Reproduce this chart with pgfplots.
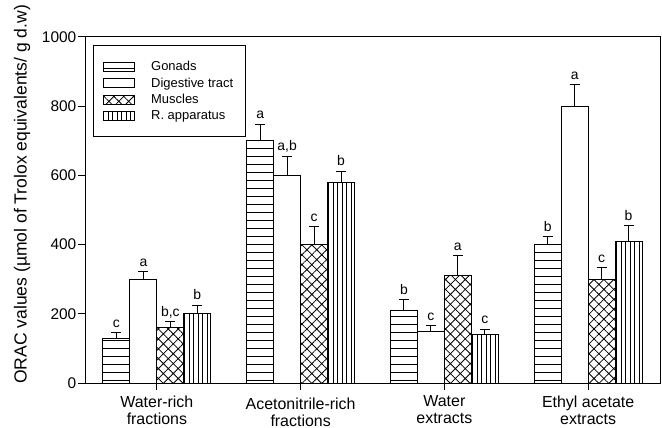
\documentclass[border=0pt]{standalone}
\usepackage{fontspec}
\setmainfont{Liberation Sans}
\usepackage{pgfplots}
\usepackage{pgfplotstable}
\pgfplotsset{compat=1.18}
\usetikzlibrary{patterns.meta}

\pgfplotstableread{
x y e
0 130 15
1 700 48
2 210 30
3 400 22
}\gonads
\pgfplotstableread{
x y e
0 300 22
1 600 55
2 150 16
3 800 62
}\digestive
\pgfplotstableread{
x y e
0 160 17
1 400 52
2 310 58
3 300 33
}\muscles
\pgfplotstableread{
x y e
0 200 25
1 580 32
2 140 16
3 410 45
}\rapp
\pgfplotstableread{
x y l
-0.28125 145 c
-0.09375 322 a
0.09375 177 {b,c}
0.28125 225 b
0.71875 748 a
0.90625 655 {a,b}
1.09375 452 c
1.28125 612 b
1.71875 240 b
1.90625 166 c
2.09375 368 a
2.28125 156 c
2.71875 422 b
2.90625 862 a
3.09375 333 c
3.28125 455 b
}\letters

\pgfplotsset{
  mybar/.style={ybar, bar width=0.1875, bar shift=0pt, draw=black, line width=1bp,
    error bars/.cd, y dir=plus, y explicit,
    error bar style={line width=1bp, black, solid},
    error mark options={rotate=90, mark size=5bp, line width=1bp, black},
    /pgfplots/.cd,
    legend image code/.code={\draw[##1, line width=0.8bp] (0bp,-4.5bp) rectangle (31bp,4.5bp);}
  }
}

\begin{document}
\begin{tikzpicture}
\begin{axis}[
  at={(85bp,45bp)}, anchor=south west,
  scale only axis, width=575bp, height=346bp,
  xmin=-0.5, xmax=3.5, ymin=0, ymax=1000,
  axis line style={line width=1bp},
  xtick={0,1,2,3},
  xticklabels={{Water-rich\\fractions},{\rule{0pt}{13.5bp}Acetonitrile-rich\\fractions},{Water\\extracts},{Ethyl acetate\\extracts}},
  xticklabel style={align=center, font=\fontsize{16}{17}\selectfont, inner ysep=5.5bp},
  ytick={0,200,400,600,800,1000},
  yticklabel style={font=\fontsize{15.5}{17}\selectfont, inner xsep=1.5bp},
  /pgf/number format/assume math mode=true,
  /pgf/number format/1000 sep={},
  xtick pos=bottom, ytick pos=left,
  tick align=outside, major tick length=7bp,
  tick style={line width=1bp, black},
  minor tick num=0,
  ylabel={ORAC values (µmol of Trolox equivalents/ g d.w)},
  ylabel style={font=\fontsize{17.6}{19}\selectfont, at={(axis description cs:-0.1096,0.545)}, anchor=center},
  legend style={at={(axis description cs:0,1)}, anchor=north west, xshift=8bp, yshift=-8bp,
    draw=black, line width=0.8bp, font=\fontsize{13}{15}\selectfont, row sep=1.5bp,
    inner xsep=10bp, inner ysep=14bp,
    /tikz/every odd column/.append style={column sep=14bp}},
  legend cell align=left,
]
\addplot[mybar, pattern={Lines[angle=0,distance=8bp,line width=0.8bp]}] table[x expr=\thisrow{x}-0.28125,y=y,y error=e]{\gonads};
\addplot[mybar, fill=white] table[x expr=\thisrow{x}-0.09375,y=y,y error=e]{\digestive};
\addplot[mybar, pattern={Hatch[angle=45,distance=7bp,line width=0.8bp]}] table[x expr=\thisrow{x}+0.09375,y=y,y error=e]{\muscles};
\addplot[mybar, pattern={Lines[angle=90,distance=4.5bp,line width=0.8bp]}] table[x expr=\thisrow{x}+0.28125,y=y,y error=e]{\rapp};
\addplot[forget plot, only marks, mark=*, mark size=0pt, mark options={draw=none, fill=none},
  nodes near coords, point meta=explicit symbolic,
  every node near coord/.style={anchor=base, yshift=5.5bp, font=\fontsize{14}{16}\selectfont, inner sep=0pt}]
  table[x=x, y=y, meta=l]{\letters};
\legend{Gonads, Digestive tract, Muscles, R. apparatus}
\end{axis}
\pgfresetboundingbox
\path (0,0) rectangle (662bp,428bp);
\end{tikzpicture}
\end{document}
